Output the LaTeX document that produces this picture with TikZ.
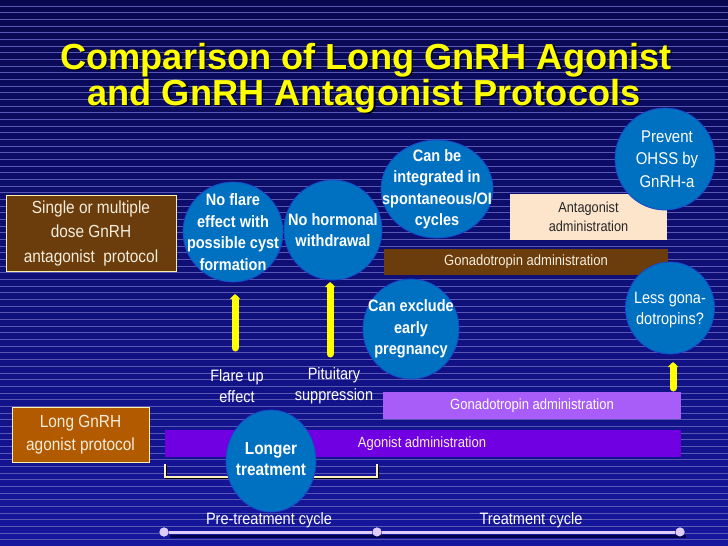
\documentclass[tikz,border=0pt]{standalone}
\usepackage{fontspec}
\setmainfont{Liberation Sans}
\newfontfamily\cnd[FakeStretch=0.88]{Liberation Sans}
\newfontfamily\ttlf[FakeStretch=1.0]{Liberation Sans}
\usetikzlibrary{arrows.meta,shapes.geometric}
\definecolor{bgtop}{RGB}{8,8,80}
\definecolor{bgbot}{RGB}{22,22,158}
\definecolor{bgline}{RGB}{88,88,178}
\definecolor{circ}{RGB}{0,112,192}
\definecolor{circedge}{RGB}{25,70,205}
\definecolor{brownA}{RGB}{107,60,12}
\definecolor{brownB}{RGB}{178,90,0}
\definecolor{peach}{RGB}{253,229,204}
\definecolor{purpL}{RGB}{168,92,248}
\definecolor{purpD}{RGB}{112,0,226}
\definecolor{boxedge}{RGB}{255,240,170}
\definecolor{cream}{RGB}{245,238,220}
\definecolor{ttl}{RGB}{255,255,0}
\definecolor{lav}{RGB}{222,205,250}
\definecolor{ylw}{RGB}{255,255,0}
\tikzset{
  bub/.style={ellipse, fill=circ, draw=circedge, line width=0.8pt, inner sep=0pt},
  btxt/.style={align=center, text=white, inner sep=0pt, font=\cnd\bfseries\fontsize{16.5}{21.5}\selectfont},
  rtxt/.style={align=center, text=white, inner sep=0pt, font=\cnd\fontsize{17}{22.5}\selectfont},
  protobox/.style={rectangle, draw=boxedge, line width=0.8pt, inner sep=0pt,
    align=center, text=cream, font=\cnd\fontsize{17.5}{24.5}\selectfont},
  bar/.style={rectangle, inner sep=0pt, text=cream, font=\cnd\fontsize{14.8}{16}\selectfont},
  lbl/.style={align=center, text=white, font=\cnd\fontsize{16.5}{21}\selectfont},
  yarrow/.style={draw=ylw, line width=7pt, line cap=round, -{Triangle[width=10pt,length=5pt]}},
  tdot/.style={circle, fill=lav, inner sep=0pt, minimum size=9pt},
  ttlfont/.style={font=\ttlf\bfseries\fontsize{36.2}{38}\selectfont}
}
\begin{document}
\begin{tikzpicture}[x=1pt,y=-1pt]
\useasboundingbox (0,0) rectangle (728,546);
% background
\shade[top color=bgtop, bottom color=bgbot] (0,0) rectangle (728,546);
\foreach \i in {0,...,81} {
  \draw[bgline, line width=0.7pt] (0,{6+\i*6.67}) -- (728,{6+\i*6.67});
}
% title
\node[ttlfont, text=black, anchor=base, inner sep=0pt] at (367.2,70.2) {Comparison of Long GnRH Agonist};
\node[ttlfont, text=ttl, anchor=base, inner sep=0pt] (t1) at (366,69) {Comparison of Long GnRH Agonist};
\node[ttlfont, text=black, anchor=base, inner sep=0pt] at (365.2,106.2) {and GnRH Antagonist Protocols};
\node[ttlfont, text=ttl, anchor=base, inner sep=0pt] (t2) at (364,105) {and GnRH Antagonist Protocols};

% antagonist protocol
\node[protobox, fill=brownA, minimum width=170pt, minimum height=76pt] (antp) at (91,233)
  {Single or multiple\\dose GnRH\\antagonist\ \ protocol};
\node[bar, fill=peach, text=black!85, minimum width=157pt, minimum height=46pt, align=center,
  font=\cnd\fontsize{14.5}{19}\selectfont] (antadm) at (588.5,217) {Antagonist\\administration};
\node[bar, fill=brownA, minimum width=284pt, minimum height=26pt] (gonA) at (526,262) {Gonadotropin administration};

\node[bub, minimum width=100pt, minimum height=100pt] (c1) at (233,232) {};
\node[btxt] (c1t) at (c1.center) {No flare\\effect with\\possible cyst\\formation};
\node[bub, minimum width=98pt, minimum height=100pt] (c2) at (333,230) {};
\node[btxt] (c2t) at (c2.center) {No hormonal\\withdrawal};
\node[bub, minimum width=112pt, minimum height=98pt] (c3) at (437,189) {};
\node[btxt] (c3t) at (c3.center) {Can be\\integrated in\\spontaneous/OI\\cycles};
\node[bub, minimum width=100pt, minimum height=102pt] (c4) at (665,159) {};
\node[rtxt] (c4t) at ([xshift=2pt]c4.center) {Prevent\\OHSS by\\GnRH-a};
\node[bub, minimum width=89pt, minimum height=92pt] (c5) at (670,308) {};
\node[rtxt, font=\cnd\fontsize{16.5}{21.5}\selectfont] (c5t) at ([yshift=-2pt]c5.center) {Less gona-\\dotropins?};
\node[bub, minimum width=96pt, minimum height=100pt] (c6) at (411,329) {};
\node[btxt] (c6t) at (c6.center) {Can exclude\\early\\pregnancy};

% arrows
\coordinate (a1s) at (235,348); \coordinate (a1e) at (235,294);
\coordinate (a2s) at (330,354); \coordinate (a2e) at (330,282);
\coordinate (a3s) at (673,388); \coordinate (a3e) at (673,362);
\draw[yarrow] (a1s) -- (a1e);
\draw[yarrow] (a2s) -- (a2e);
\draw[yarrow] (a3s) -- (a3e);

\node[lbl] (flare) at (237,386) {Flare up\\effect};
\node[lbl] (pit) at (334,386) {Pituitary\\suppression};

% agonist protocol
\node[bar, fill=purpL, text=white, minimum width=298pt, minimum height=27pt] (gonL) at (532,405.5) {Gonadotropin administration};
\node[bar, fill=purpD, minimum width=516pt, minimum height=27pt] (agon) at (423,443.5) {};
\node[bar, text=cream] (agtxt) at (422,443.5) {Agonist administration};
\node[protobox, fill=brownB, minimum width=137pt, minimum height=55pt, font=\cnd\fontsize{17.5}{23}\selectfont] (longp) at (80.5,434.5)
  {Long GnRH\\agonist protocol};

% bracket
\coordinate (b1) at (165,464); \coordinate (b2) at (165,477);
\coordinate (b3) at (377,477); \coordinate (b4) at (377,464);
\draw[black, line width=1.6pt] ([shift={(1,1.5)}]b1) -- ([shift={(1,1.5)}]b2) -- ([shift={(1,1.5)}]b3) -- ([shift={(1,1.5)}]b4);
\draw[boxedge!80!white, line width=1.1pt] (b1) -- (b2) -- (b3) -- (b4);

\node[bub, minimum width=90pt, minimum height=102pt] (c7) at (271,461) {};
\node[btxt, font=\cnd\bfseries\fontsize{17.5}{21.5}\selectfont] (c7t) at ([yshift=2pt]c7.center) {Longer\\treatment};

% timeline
\node[tdot] (d1) at (164,532) {};
\node[tdot] (d2) at (377,532) {};
\node[tdot] (d3) at (680,532) {};
\draw[black!70!blue, line width=3pt] ([shift={(6,4)}]d1.center) -- ([shift={(6,4)}]d3.center);
\draw[lav, line width=3pt] (d1) -- (d2) -- (d3);
\node[tdot] at (164,532) {};
\node[tdot] at (377,532) {};
\node[tdot] at (680,532) {};
\node[lbl] (pre) at (269,520) {Pre-treatment cycle};
\node[lbl] (trt) at (531,520) {Treatment cycle};
\end{tikzpicture}
\end{document}
